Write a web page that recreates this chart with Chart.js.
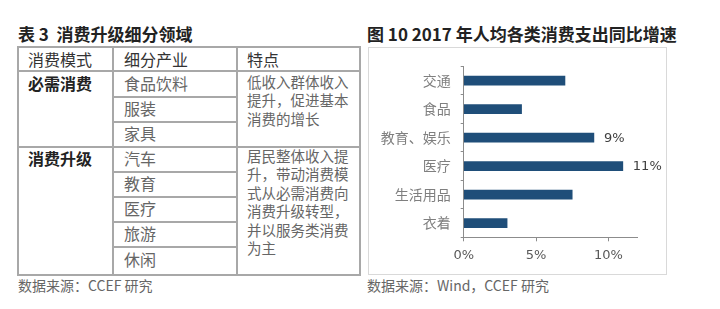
<!DOCTYPE html>
<html>
<head>
<meta charset="utf-8">
<script src="https://cdn.jsdelivr.net/npm/chart.js@4.4.1/dist/chart.umd.min.js"></script>
<style>
  html, body { margin:0; padding:0; background:#fff; width:720px; height:309px; overflow:hidden; }
  body { position:relative; font-family:"Noto Sans CJK SC", sans-serif; }
  .title { position:absolute; font-weight:bold; color:#222; white-space:nowrap; }
  .src { position:absolute; font-size:14px; color:#666; white-space:nowrap; }
  .h { position:absolute; height:2px; background:#a8a8a8; }
  .v { position:absolute; width:2px; background:#a8a8a8; }
  .t { position:absolute; white-space:nowrap; line-height:20px; }
  .hd { font-size:16px; color:#333; }
  .bd { font-size:16px; color:#222; font-weight:bold; }
  .it { font-size:16px; color:#666; }
  .ds { font-size:14.5px; color:#666; line-height:18.4px; }
  #box { position:absolute; left:368px; top:47px; width:299px; height:228px; border:1px solid #d9d9d9; box-sizing:border-box; }
  #box canvas { display:block; }
</style>
</head>
<body>
<div class="title" style="left:18px; top:21px; font-size:17px;">表 3&nbsp;&nbsp;消费升级细分领域</div>
<div class="title" style="left:367px; top:21px; font-size:17px;">图 10 2017 年人均各类消费支出同比增速</div>

<!-- table grid -->
<div class="h" style="left:17px; width:344px; top:46px;"></div>
<div class="h" style="left:17px; width:344px; top:70px;"></div>
<div class="h" style="left:112px; width:126px; top:96px;"></div>
<div class="h" style="left:112px; width:126px; top:121px;"></div>
<div class="h" style="left:17px; width:344px; top:146px;"></div>
<div class="h" style="left:112px; width:126px; top:171px;"></div>
<div class="h" style="left:112px; width:126px; top:196px;"></div>
<div class="h" style="left:112px; width:126px; top:221px;"></div>
<div class="h" style="left:112px; width:126px; top:246px;"></div>
<div class="h" style="left:17px; width:344px; top:274px;"></div>
<div class="v" style="left:17px; top:46px; height:230px;"></div>
<div class="v" style="left:112px; top:46px; height:230px;"></div>
<div class="v" style="left:236px; top:46px; height:230px;"></div>
<div class="v" style="left:359px; top:46px; height:230px;"></div>

<div class="t hd" style="left:28px; top:49px;">消费模式</div>
<div class="t hd" style="left:124px; top:49px;">细分产业</div>
<div class="t hd" style="left:247px; top:49px;">特点</div>

<div class="t bd" style="left:28px; top:73px;">必需消费</div>
<div class="t it" style="left:124px; top:73px;">食品饮料</div>
<div class="t it" style="left:124px; top:98px;">服装</div>
<div class="t it" style="left:124px; top:123px;">家具</div>
<div class="t ds" style="left:247px; top:73px;">低收入群体收入<br>提升，促进基本<br>消费的增长</div>

<div class="t bd" style="left:28px; top:148px;">消费升级</div>
<div class="t it" style="left:124px; top:148px;">汽车</div>
<div class="t it" style="left:124px; top:173px;">教育</div>
<div class="t it" style="left:124px; top:198px;">医疗</div>
<div class="t it" style="left:124px; top:223px;">旅游</div>
<div class="t it" style="left:124px; top:249px;">休闲</div>
<div class="t ds" style="left:247px; top:147px;">居民整体收入提<br>升，带动消费模<br>式从必需消费向<br>消费升级转型，<br>并以服务类消费<br>为主</div>

<div class="src" style="left:18px; top:275px;">数据来源：CCEF 研究</div>
<div class="src" style="left:367px; top:275px;">数据来源：Wind，CCEF 研究</div>

<div id="box"><canvas id="c" width="297" height="226"></canvas></div>

<script>
const categories = ['交通', '食品', '教育、娱乐', '医疗', '生活用品', '衣着'];
const growth = [7, 4, 9, 11, 7.5, 3];
const pointLabels = ['', '', '9%', '11%', '', ''];
const xTicks = [0, 5, 10];

const labelPlugin = {
  id: 'barLabels',
  afterDatasetsDraw(chart) {
    const ctx = chart.ctx;
    const meta = chart.getDatasetMeta(0);
    ctx.save();
    ctx.font = '13px "DejaVu Sans", sans-serif';
    ctx.fillStyle = '#404040';
    ctx.textAlign = 'left';
    ctx.textBaseline = 'middle';
    meta.data.forEach((el, i) => {
      if (pointLabels[i]) ctx.fillText(pointLabels[i], el.x + 10, el.y + 1);
    });
    ctx.restore();
  }
};

new Chart(document.getElementById('c'), {
  type: 'bar',
  data: {
    labels: categories,
    datasets: [{ data: growth, backgroundColor: '#1f4e79', barThickness: 9 }]
  },
  options: {
    indexAxis: 'y',
    responsive: false,
    animation: false,
    layout: { padding: { left: 0, right: 28.7, top: 17, bottom: 0 } },
    plugins: { legend: { display: false }, tooltip: { enabled: false } },
    scales: {
      x: {
        min: 0, max: 12,
        afterBuildTicks: s => { s.ticks = xTicks.map(v => ({ value: v })); },
        afterFit: s => { s.height = 36.7; },
        grid: { drawOnChartArea: false, drawTicks: true, tickLength: 4, color: '#8c8c8c' },
        border: { color: '#8c8c8c', width: 1 },
        ticks: { padding: 7, color: '#595959', font: { family: '"DejaVu Sans", sans-serif', size: 13 }, callback: v => v + '%' }
      },
      y: {
        afterFit: s => { s.width = 94.7; },
        grid: { drawOnChartArea: false, offset: true, drawTicks: true, tickLength: 3, color: '#8c8c8c' },
        border: { color: '#8c8c8c', width: 1 },
        ticks: { padding: 10, color: '#7f7f7f', font: { family: '"Noto Sans CJK SC", sans-serif', size: 14 } }
      }
    }
  },
  plugins: [labelPlugin]
});
</script>
</body>
</html>
